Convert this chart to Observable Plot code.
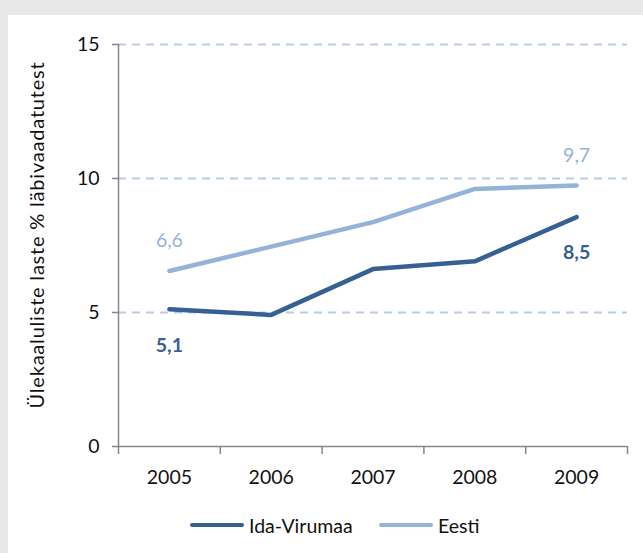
<!DOCTYPE html>
<html>
<head>
<meta charset="utf-8">
<script src="https://cdn.jsdelivr.net/npm/d3@7"></script>
<script src="https://cdn.jsdelivr.net/npm/@observablehq/plot@0.6"></script>
<style>
  html, body { margin: 0; padding: 0; background: #e8e8e8; width: 643px; height: 553px; overflow: hidden; }
  #panel { position: absolute; left: 8px; top: 15px; width: 635px; height: 538px; background: #fff; font-family: Lato, sans-serif; }
  #ytitle { position: absolute; left: 28px; top: 220px; transform: translate(-50%, -50%) rotate(-90deg); white-space: nowrap; font-size: 20px; letter-spacing: 0.8px; color: #111; line-height: 1; }
  #legend { position: absolute; left: 0; top: 498px; width: 635px; height: 24px; font-size: 19.5px; color: #111; }
  .item { position: absolute; top: 0; display: flex; align-items: center; height: 24px; }
  .swatch { display: inline-block; width: 54px; height: 4px; border-radius: 2px; margin-right: 5px; }
</style>
</head>
<body>
<div id="panel"><div id="chart"></div><div id="ytitle"></div><div id="legend"></div></div>
<script>
const years = [2005, 2006, 2007, 2008, 2009];
const idaVirumaa = [5.12, 4.91, 6.62, 6.91, 8.56];
const eesti = [6.55, 7.46, 8.37, 9.61, 9.74];
const seriesNames = ["Ida-Virumaa", "Eesti"];
const seriesColors = ["#376092", "#95b3d7"];
const yTicks = [0, 5, 10, 15];
const gridValues = [5, 10, 15];
const yTitle = "Ülekaaluliste laste % läbivaadatutest";
const pointLabels = [
  {series: "Ida-Virumaa", year: 2005, value: 5.12, text: "5,1", pos: "below"},
  {series: "Ida-Virumaa", year: 2009, value: 8.56, text: "8,5", pos: "below"},
  {series: "Eesti", year: 2005, value: 6.55, text: "6,6", pos: "above"},
  {series: "Eesti", year: 2009, value: 9.74, text: "9,7", pos: "above"}
];

const data = [];
years.forEach((y, i) => {
  data.push({series: "Ida-Virumaa", year: y, value: idaVirumaa[i]});
  data.push({series: "Eesti", year: y, value: eesti[i]});
});
const bounds = [years[0] - 0.5, ...years.map(y => y + 0.5)];
const colorOf = s => seriesColors[seriesNames.indexOf(s)];

const chart = Plot.plot({
  width: 635,
  height: 480,
  marginTop: 29,
  marginBottom: 49,
  marginLeft: 110,
  marginRight: 16,
  style: {fontFamily: "Lato, sans-serif", fontSize: "19.5px", color: "#111", background: "#fff"},
  x: {domain: [bounds[0], bounds[bounds.length - 1]]},
  y: {domain: [0, 15]},
  marks: [
    Plot.ruleY(gridValues, {stroke: "#b9cde5", strokeWidth: 2, strokeDasharray: "8,6"}),
    Plot.ruleY([0], {stroke: "#868686", strokeWidth: 1.5}),
    Plot.ruleX([bounds[0]], {stroke: "#868686", strokeWidth: 1.5}),
    Plot.axisX({ticks: bounds, tickSize: 8, tickFormat: () => "", stroke: "#868686", strokeWidth: 1.5, label: null}),
    Plot.axisX({ticks: years, tickSize: 0, tickPadding: 24, tickFormat: d => String(d), fill: "#111", label: null}),
    Plot.axisY({ticks: yTicks, tickSize: 6, tickPadding: 13, stroke: "#868686", strokeWidth: 1.5, fill: "#111", label: null}),
    Plot.line(data, {x: "year", y: "value", z: "series", stroke: d => colorOf(d.series), strokeWidth: 4.5, strokeLinejoin: "miter"}),
    Plot.text(pointLabels.filter(d => d.pos === "above"), {x: "year", y: "value", text: "text", dy: -30, fill: d => colorOf(d.series), fontSize: 19.5}),
    Plot.text(pointLabels.filter(d => d.pos === "below"), {x: "year", y: "value", text: "text", dy: 36, fill: d => colorOf(d.series), fontSize: 19.5, fontWeight: "bold"})
  ]
});
document.getElementById("chart").appendChild(chart);
document.getElementById("ytitle").textContent = yTitle;

const legend = document.getElementById("legend");
const legendLeft = [182, 371];
seriesNames.forEach((name, i) => {
  const item = document.createElement("div");
  item.className = "item";
  item.style.left = legendLeft[i] + "px";
  const sw = document.createElement("span");
  sw.className = "swatch";
  sw.style.background = seriesColors[i];
  item.appendChild(sw);
  item.appendChild(document.createTextNode(name));
  legend.appendChild(item);
});
</script>
</body>
</html>
